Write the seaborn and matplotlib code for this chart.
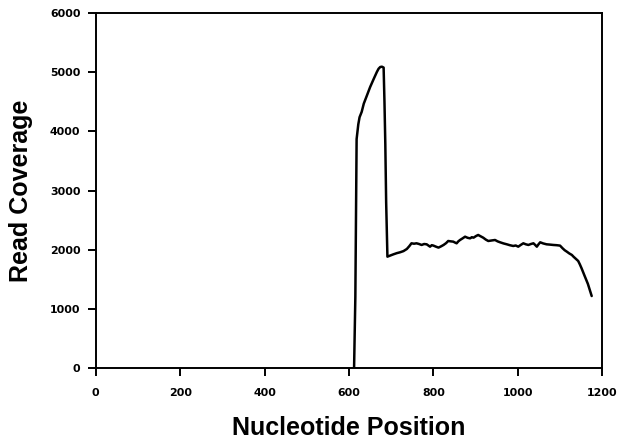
import matplotlib
matplotlib.use("Agg")
import matplotlib.pyplot as plt
import numpy as np
import pandas as pd
import seaborn as sns

# coverage profile
position = [612, 615, 618, 622, 625, 630, 635, 642, 650, 658, 666, 670, 674, 678, 682,
            684, 686, 688, 691, 697, 705, 713, 721, 729, 737, 743, 748, 754, 760, 766,
            772, 778, 784, 788, 792, 796, 800, 806, 812, 818, 824, 830, 835, 841, 847,
            851, 855, 859, 863, 869, 875, 881, 887, 891, 895, 901, 906, 912, 918, 924,
            930, 938, 946, 952, 958, 966, 974, 981, 989, 995, 1001, 1007, 1013, 1019,
            1025, 1031, 1037, 1041, 1045, 1049, 1053, 1060, 1068, 1076, 1084, 1092,
            1100, 1106, 1111, 1116, 1122, 1128, 1132, 1136, 1143, 1147, 1151, 1158,
            1166, 1175]
coverage = [0, 1200, 3870, 4120, 4240, 4330, 4470, 4600, 4750, 4880, 5006, 5060, 5090,
            5095, 5080, 4500, 3786, 2800, 1881, 1898, 1920, 1940, 1955, 1975, 2011, 2060,
            2107, 2100, 2107, 2095, 2079, 2095, 2090, 2070, 2050, 2075, 2068, 2050, 2034,
            2055, 2079, 2110, 2146, 2140, 2135, 2120, 2107, 2140, 2163, 2190, 2219, 2200,
            2191, 2210, 2202, 2230, 2248, 2225, 2202, 2170, 2146, 2155, 2163, 2140, 2124,
            2105, 2090, 2075, 2062, 2070, 2050, 2080, 2107, 2090, 2079, 2095, 2107, 2080,
            2050, 2090, 2124, 2105, 2090, 2085, 2079, 2075, 2068, 2023, 1990, 1966, 1935,
            1910, 1880, 1854, 1808, 1750, 1685, 1560, 1420, 1215]

df = pd.DataFrame({"Nucleotide Position": position, "Read Coverage": coverage})

sns.set_style("ticks")
plt.rcParams["font.family"] = ["Liberation Sans", "DejaVu Sans"]

fig = plt.figure(figsize=(6.18, 4.40), dpi=100)
ax = fig.add_axes([0.155, 0.164, 0.8195, 0.806])

sns.lineplot(data=df, x="Nucleotide Position", y="Read Coverage", color="black",
             linewidth=1.8, ax=ax)

ax.set_xlim(0, 1200)
ax.set_ylim(0, 6000)
ax.set_xticks(np.arange(0, 1201, 200))
ax.set_yticks(np.arange(0, 6001, 1000))
for s in ax.spines.values():
    s.set_linewidth(1.4)
    s.set_color("black")
ax.tick_params(direction="out", length=5.5, width=1.4, colors="black")
ax.tick_params(axis="x", pad=9)
ax.tick_params(axis="y", pad=5.5)
for lab in ax.get_xticklabels() + ax.get_yticklabels():
    lab.set_fontweight("bold")
    lab.set_family("DejaVu Sans")
    lab.set_fontsize(7.9)

ax.set_xlabel("Nucleotide Position", fontsize=18, fontweight="bold", labelpad=13,
              color="black")
ax.set_ylabel("Read Coverage", fontsize=18, fontweight="bold", labelpad=12,
              color="black")

fig.savefig("out.png", dpi=100)
